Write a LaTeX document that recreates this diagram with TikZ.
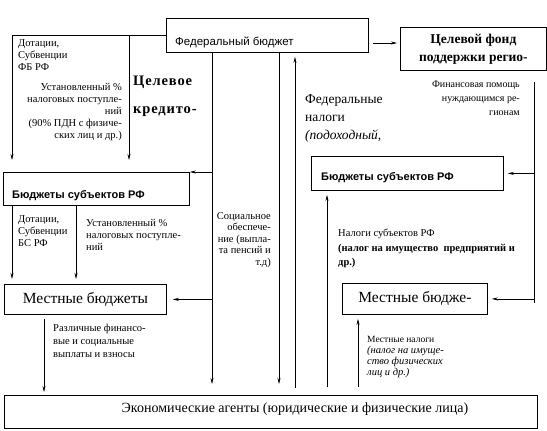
\documentclass[tikz,border=0pt]{standalone}
\usepackage{fontspec}
\setmainfont{Liberation Serif}
\newfontfamily\sansf{Liberation Sans}
\newfontfamily\spacedf[LetterSpace=6]{Liberation Serif}
\usetikzlibrary{arrows.meta}
\begin{document}
\begin{tikzpicture}[x=1pt,y=-1pt,
  box/.style={draw, line width=0.8pt, inner sep=0pt, anchor=north west},
  ln/.style={line width=0.7pt},
  arr/.style={ln, -{Stealth[length=6pt,width=3pt]}},
  sm/.style={inner sep=0pt, font=\fontsize{10.5}{12}\selectfont},
  bigb/.style={inner sep=0pt, font=\fontsize{14.5}{28}\selectfont\spacedf\bfseries},
  sansb/.style={inner sep=0pt, font=\fontsize{11}{13}\selectfont\sansf\bfseries},
]
\useasboundingbox (0,0) rectangle (547,431);
\fill[white] (0,0) rectangle (547,431);
% boxes
\node[box, minimum width=202pt, minimum height=34pt] (fed) at (166,18) {};
\node[inner sep=0pt, anchor=west, font=\fontsize{11.5}{13}\selectfont\sansf] (fedt) at (175,42) {Федеральный бюджет};
\node[box, minimum width=146pt, minimum height=43pt, align=center, font=\fontsize{13.5}{18}\selectfont\bfseries] (fond) at (400,27) {Целевой фонд\\поддержки регио-};
\node[box, minimum width=186pt, minimum height=33pt] (bsl) at (3,172) {};
\node[sansb, anchor=west] (bslt) at (12,196) {Бюджеты субъектов РФ};
\node[box, minimum width=192pt, minimum height=34pt] (bsr) at (311,156) {};
\node[sansb, anchor=west] (bsrt) at (321,178) {Бюджеты субъектов РФ};
\node[box, minimum width=162pt, minimum height=30pt, font=\fontsize{15.5}{18}\selectfont] (mbl) at (4,284) {Местные бюджеты};
\node[box, minimum width=145pt, minimum height=31pt, font=\fontsize{15.5}{18}\selectfont] (mbr) at (342,283) {Местные бюдже-};
\node[box, minimum width=533pt, minimum height=33pt] (econ) at (4,395) {};
\node[inner sep=0pt, font=\fontsize{14}{17}\selectfont] (econt) at (295,409) {Экономические агенты (юридические и физические лица)};
% column coordinates
\coordinate (xa) at (12,0);
\coordinate (xb) at (129,0);
\coordinate (xc) at (212,0);
\coordinate (xd) at (279,0);
\coordinate (xe) at (295,0);
\coordinate (xf) at (327,0);
\coordinate (xg) at (358,0);
\coordinate (xh) at (534,0);
\coordinate (xi) at (76,0);
\coordinate (xj) at (44,0);
\coordinate (fa) at (373,43);
\coordinate (rt) at (534,82);
\coordinate (rb) at (534,303);
% connectors
\draw[arr, shorten >=12pt] (fed.west) -| (bsl.north -| xa);
\draw[arr, shorten >=12pt] (fed.west -| xb) -- (bsl.north -| xb);
\draw[arr, shorten >=3pt] (fa) -- (fond.west |- fa);
\draw[arr, shorten >=11pt] (fed.south -| xc) -- (econ.north -| xc);
\draw[arr] (bsl.north east -| xc) -- (bsl.north east);
\draw[arr, shorten >=6pt] (mbl.east -| xc) -- (mbl.east);
\draw[arr, shorten >=11pt] (fed.south -| xd) -- (econ.north -| xd);
\draw[arr, shorten <=7pt, shorten >=4pt] (econ.north -| xe) -- (fed.south -| xe);
\draw[arr, shorten <=8pt, shorten >=4pt] (econ.north -| xf) -- (bsr.south -| xf);
\draw[arr, shorten <=8pt, shorten >=4pt] (econ.north -| xg) -- (mbr.south -| xg);
\draw[ln] (rt) -- (rb);
\draw[arr, shorten >=4pt] (bsr.east -| xh) -- (bsr.east);
\draw[arr, shorten >=4pt] (mbr.east -| xh) -- (mbr.east);
\draw[arr, shorten >=5pt] (bsl.south -| xa) -- (mbl.north -| xa);
\draw[arr, shorten >=5pt] (bsl.south -| xi) -- (mbl.north -| xi);
\draw[arr, shorten <=4pt, shorten >=3pt] (mbl.south -| xj) -- (econ.north -| xj);
% labels
\node[sm, anchor=north west, align=left] (l1) at (18,39) {Дотации,\\Субвенции\\ФБ РФ};
\node[sm, anchor=north east, align=right] (l2) at (122,83) {Установленный \%\\налоговых поступле-\\ний\\(90\% ПДН с физиче-\\ских лиц и др.)};
\node[bigb, anchor=north west, align=left] (l3) at (133,76) {Целевое\\кредито-};
\node[inner sep=0pt, anchor=north west, align=left, font=\fontsize{13.5}{18}\selectfont] (l4) at (305,94) {Федеральные\\налоги\\\textit{(подоходный,}};
\node[sm, anchor=north east, align=right, font=\fontsize{10}{14}\selectfont] (l5) at (520,81) {Финансовая помощь\\нуждающимся ре-\\гионам};
\node[sm, anchor=north west, align=left] (l6) at (18,215) {Дотации,\\Субвенции\\БС РФ};
\node[sm, anchor=north west, align=left] (l7) at (86,219) {Установленный \%\\налоговых поступле-\\ний};
\node[sm, anchor=north east, align=right, font=\fontsize{10.5}{11.5}\selectfont] (l8) at (271,212) {Социальное\\обеспече-\\ние (выпла-\\та пенсий и\\т.д)};
\node[sm, anchor=north west, align=left, font=\fontsize{10.5}{14.5}\selectfont] (l9) at (338,229) {Налоги субъектов РФ\\\textbf{(налог на имущество~~предприятий и}\\\textbf{др.)}};
\node[sm, anchor=north west, align=left, font=\fontsize{9.5}{11}\selectfont] (l10) at (367,336) {Местные налоги\\\textit{\fontsize{10.5}{11}\selectfont(налог на имуще-}\\\textit{\fontsize{10.5}{11}\selectfont ство физических}\\\textit{\fontsize{10.5}{11}\selectfont лиц и др.)}};
\node[sm, anchor=north west, align=left, font=\fontsize{10.5}{13}\selectfont] (l11) at (53,324) {Различные финансо-\\вые и социальные\\выплаты и взносы};
\end{tikzpicture}
\end{document}
